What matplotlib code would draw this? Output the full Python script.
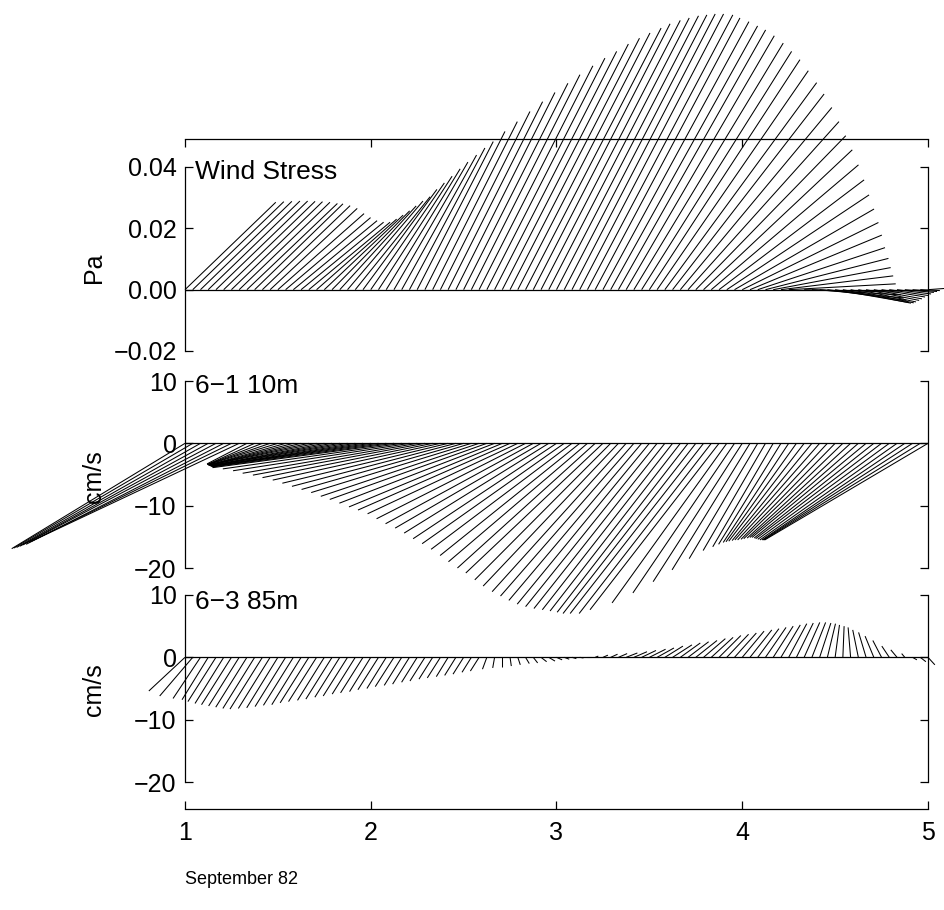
import numpy as np
import matplotlib
matplotlib.use('Agg')
import matplotlib.pyplot as plt

plt.rcParams['font.family'] = ['Liberation Sans', 'DejaVu Sans']

# hourly samples, 1 to 5 September 1982
hours = np.arange(97)
days = 1 + hours / 24.0

# wind stress (Pa), east / north components
ws_u = [0.0296, 0.0297, 0.0298, 0.0299, 0.0299, 0.0298, 0.0297, 0.0296, 0.0295, 0.0288,
        0.0286, 0.0284, 0.0281, 0.0277, 0.0273, 0.0269, 0.0265, 0.0261, 0.0257, 0.0253,
        0.0249, 0.0246, 0.0244, 0.0241, 0.0240, 0.0240, 0.0241, 0.0241, 0.0244, 0.0246,
        0.0248, 0.0261, 0.0276, 0.0292, 0.0308, 0.0323, 0.0340, 0.0354, 0.0371, 0.0385,
        0.0398, 0.0411, 0.0422, 0.0431, 0.0442, 0.0446, 0.0454, 0.0458, 0.0463, 0.0465,
        0.0467, 0.0469, 0.0474, 0.0472, 0.0476, 0.0479, 0.0480, 0.0483, 0.0487, 0.0489,
        0.0491, 0.0493, 0.0495, 0.0494, 0.0494, 0.0492, 0.0489, 0.0485, 0.0480, 0.0473,
        0.0464, 0.0455, 0.0444, 0.0430, 0.0415, 0.0401, 0.0383, 0.0366, 0.0349, 0.0326,
        0.0310, 0.0290, 0.0274, 0.0258, 0.0241, 0.0222, 0.0206, 0.0188, 0.0173, 0.0157,
        0.0142, 0.0126, 0.0111, 0.0095, 0.0080, 0.0064, 0.0055]
ws_v = [0.0285, 0.0287, 0.0288, 0.0289, 0.0289, 0.0288, 0.0287, 0.0285, 0.0281, 0.0280,
        0.0274, 0.0265, 0.0248, 0.0235, 0.0225, 0.0220, 0.0220, 0.0230, 0.0243, 0.0257,
        0.0273, 0.0289, 0.0303, 0.0327, 0.0348, 0.0370, 0.0394, 0.0416, 0.0439, 0.0462,
        0.0483, 0.0516, 0.0548, 0.0581, 0.0613, 0.0643, 0.0673, 0.0701, 0.0730, 0.0755,
        0.0777, 0.0801, 0.0820, 0.0837, 0.0853, 0.0867, 0.0878, 0.0886, 0.0893, 0.0896,
        0.0899, 0.0899, 0.0896, 0.0886, 0.0874, 0.0860, 0.0847, 0.0828, 0.0804, 0.0777,
        0.0750, 0.0714, 0.0675, 0.0638, 0.0594, 0.0548, 0.0502, 0.0456, 0.0407, 0.0358,
        0.0309, 0.0263, 0.0219, 0.0178, 0.0137, 0.0102, 0.0072, 0.0045, 0.0019, 0.0000,
        -0.0008, -0.0017, -0.0027, -0.0035, -0.0042, -0.0044, -0.0043, -0.0040, -0.0035, -0.0030,
        -0.0024, -0.0019, -0.0014, -0.0009, -0.0006, -0.0003, 0.0004]

# current at mooring 6-1, 10 m (cm/s)
m1_u = [-27.8, -28.7, -29.5, -30.2, -31.0, -31.7, -32.5, -33.3,
        -6.4, -7.6, -8.8, -10.0, -11.2, -12.4, -13.6, -14.8, -16.0, -17.2,
        -18.3, -19.6, -20.7, -21.9, -23.1, -24.3, -25.5, -26.7, -27.9,
        -29.1, -28.7, -28.3, -28.0, -27.6, -27.3, -26.9, -26.6, -26.3, -26.0,
        -25.7, -25.4, -25.2, -24.9, -24.6, -24.4, -24.1, -23.9, -23.7, -23.4,
        -23.2, -23.0, -22.8, -22.6, -22.4, -22.3, -22.1, -22.0, -21.8, -21.7,
        -21.5, -21.4, -21.3, -21.2, -21.1, -21.0, -20.9, -20.9, -21.0, -21.3,
        -21.4, -21.2, -20.7,
        -18.4, -16.3, -14.3, -12.5, -11.0, -10.0, -9.7, -10.0, -10.5, -11.3,
        -12.1, -12.8, -13.6, -14.4, -15.1, -15.9, -16.6, -17.4, -18.3, -19.2,
        -20.2, -21.1, -22.0, -22.9, -24.0, -25.1, -26.2]
m1_v = [-16.9, -16.8, -16.7, -16.5, -16.3, -16.2, -15.9, -15.7,
        -3.3, -3.4, -3.4, -3.4, -3.4, -3.5, -3.5, -3.5, -3.5, -3.5,
        -3.6, -3.6, -3.6, -3.6, -3.7, -3.7, -3.7, -3.7, -3.8,
        -3.9, -4.1, -4.4, -4.8, -5.1, -5.5, -5.9, -6.4, -6.9, -7.4,
        -7.9, -8.5, -9.0, -9.6, -10.2, -10.7, -11.3, -12.1, -12.9, -13.6,
        -14.4, -15.3, -16.1, -17.0, -18.0, -19.0, -20.0, -20.8, -21.9, -22.9,
        -23.8, -24.5, -25.2, -25.8, -26.2, -26.5, -26.7, -26.9, -27.1, -27.3,
        -27.3, -27.3, -26.7,
        -25.6, -24.0, -22.2, -20.3, -18.5, -17.2, -16.6, -16.2, -15.9, -15.8,
        -15.7, -15.6, -15.5, -15.5, -15.4, -15.3, -15.2, -15.1, -15.1, -15.2,
        -15.3, -15.4, -15.5, -15.5, -15.5, -15.5, -15.5]

# current at mooring 6-3, 85 m (cm/s)
m3_u = [-5.8, -5.3, -4.4, -4.2, -4.5, -4.6, -4.8, -4.9, -5.0, -5.1,
        -5.2, -5.1, -5.0, -4.9, -4.8, -4.7, -4.6, -4.5, -4.3, -4.2,
        -4.0, -3.9, -3.7, -3.6, -3.4, -3.3, -3.1, -3.0, -2.8, -2.7,
        -2.5, -2.4, -2.2, -2.1, -1.9, -1.8, -1.7, -1.5, -1.4, -0.7,
        -0.3, 0.0, 0.2, 0.4, 0.6, 0.7, 0.9, 1.0, 0.9, 0.8,
        0.7, 0.6, 0.6, 0.5, 0.8, 1.1, 1.4, 1.8, 2.1, 2.3,
        2.6, 2.7, 2.9, 3.1, 3.2, 3.3, 3.4, 3.5, 3.5, 3.5,
        3.5, 3.5, 3.5, 3.5, 3.4, 3.3, 3.2, 3.1, 2.9, 2.7,
        2.5, 2.2, 1.8, 1.3, 0.7, 0.2, -0.4, -0.9, -1.2, -1.4,
        -1.4, -1.2, -1.0, -0.5, 0.7, 0.9, 1.1]
m3_v = [-5.4, -6.2, -6.6, -6.8, -7.1, -7.4, -7.6, -7.8, -8.0, -8.2,
        -8.3, -8.2, -8.1, -7.9, -7.7, -7.6, -7.3, -7.1, -6.9, -6.7,
        -6.4, -6.2, -5.9, -5.7, -5.5, -5.2, -5.0, -4.7, -4.5, -4.3,
        -4.0, -3.8, -3.5, -3.3, -3.1, -2.9, -2.7, -2.4, -2.2, -1.9,
        -1.7, -1.5, -1.4, -1.2, -1.0, -0.9, -0.7, -0.6, -0.4, -0.3,
        -0.2, -0.1, 0.0, 0.2, 0.35, 0.5, 0.6, 0.7, 0.9, 1.1,
        1.3, 1.5, 1.8, 2.0, 2.3, 2.5, 2.7, 3.0, 3.2, 3.5,
        3.7, 3.9, 4.2, 4.4, 4.6, 4.8, 5.0, 5.2, 5.4, 5.5,
        5.6, 5.6, 5.5, 5.4, 5.2, 5.0, 4.8, 4.4, 4.0, 3.4,
        2.7, 1.8, 1.2, 0.6, -0.4, -0.7, -1.2]

W, H = 945, 910
L, R = 185, 928


def box(top, bottom):
    return [L / W, 1 - bottom / H, (R - L) / W, (bottom - top) / H]


fig = plt.figure(figsize=(W / 100, H / 100), dpi=100)

# outer frame carrying the time axis (top and bottom lines only)
frame = fig.add_axes(box(138.5, 808.7))
frame.set_xlim(1, 5)
frame.set_ylim(0, 1)
frame.patch.set_visible(False)
frame.spines['left'].set_visible(False)
frame.spines['right'].set_visible(False)
for s in frame.spines.values():
    s.set_linewidth(0.9)
frame.set_yticks([])
frame.set_xticks([1, 2, 3, 4, 5])
frame.tick_params(axis='x', direction='in', top=True, bottom=True, length=6,
                  width=0.9, labelsize=18, pad=9)

panels = [
    (167, 351, (-0.02, 0.04), [-0.02, 0.0, 0.02, 0.04],
     ['\u22120.02', '0.00', '0.02', '0.04'], 'Wind Stress', ws_u, ws_v, 0.0384),
    (381, 568, (-20, 10), [-20, -10, 0, 10],
     ['\u221220', '\u221210', '0', '10'], '6\u22121 10m', m1_u, m1_v, 9.2),
    (595, 782, (-20, 10), [-20, -10, 0, 10],
     ['\u221220', '\u221210', '0', '10'], '6\u22123 85m', m3_u, m3_v, 8.9),
]

for top, bottom, ylim, yt, ytl, name, u, v, ty in panels:
    ax = fig.add_axes(box(top, bottom))
    ax.set_xlim(1, 5)
    ax.set_ylim(*ylim)
    ax.patch.set_visible(False)
    ax.spines['top'].set_visible(False)
    ax.spines['bottom'].set_visible(False)
    for s in ax.spines.values():
        s.set_linewidth(0.9)
    ax.set_xticks([])
    ax.set_yticks(yt)
    ax.set_yticklabels(ytl)
    ax.tick_params(axis='y', direction='in', left=True, right=True, length=6,
                   width=0.9, labelsize=18, pad=6)
    # same pixel scale for both stick components
    k = ((bottom - top) / (ylim[1] - ylim[0])) / ((R - L) / 4.0)
    for t, uu, vv in zip(days, u, v):
        ax.plot([t, t + uu * k], [0, vv], color='k', lw=0.75, clip_on=False,
                solid_capstyle='butt')
    ax.plot([1, 5], [0, 0], color='k', lw=0.9)
    ax.text(1.054, ty, name, fontsize=19, ha='left', va='center')

fig.text(94 / W, 1 - 268 / H, 'Pa', rotation=90, fontsize=18, ha='center', va='center')
fig.text(94 / W, 1 - 477 / H, 'cm/s', rotation=90, fontsize=18, ha='center', va='center')
fig.text(94 / W, 1 - 690 / H, 'cm/s', rotation=90, fontsize=18, ha='center', va='center')
fig.text(185 / W, 1 - 880 / H, 'September 82', fontsize=13, ha='left', va='center')

fig.savefig('out.png', dpi=100)
